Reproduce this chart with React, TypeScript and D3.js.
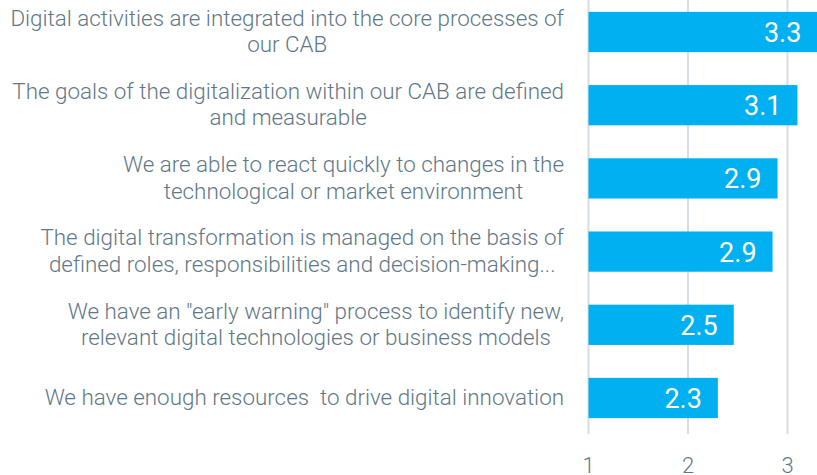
import React from "react";
import * as d3 from "d3";

const categories: string[] = [
  "Digital activities are integrated into the core processes of\nour CAB",
  "The goals of the digitalization within our CAB are defined\nand measurable",
  "We are able to react quickly to changes in the\ntechnological or market environment",
  "The digital transformation is managed on the basis of\ndefined roles, responsibilities and decision-making...",
  "We have an \"early warning\" process to identify new,\nrelevant digital technologies or business models",
  "We have enough resources  to drive digital innovation",
];
const values: number[] = [3.3, 3.1, 2.9, 2.85, 2.46, 2.3];
const valueLabels: string[] = ["3.3", "3.1", "2.9", "2.9", "2.5", "2.3"];
const ticks: number[] = [1, 2, 3];

const W = 817;
const H = 475;
const FONT = "Roboto, 'Open Sans', sans-serif";
const TEXT = "#5f7888";
const LABEL_SIZE = 22.4;
const LABEL_WEIGHT = 300;

let ctx: CanvasRenderingContext2D | null = null;
function measure(s: string): number {
  if (!ctx) ctx = document.createElement("canvas").getContext("2d");
  if (!ctx) return s.length * LABEL_SIZE * 0.45;
  ctx.font = `${LABEL_WEIGHT} ${LABEL_SIZE}px Roboto`;
  return ctx.measureText(s).width;
}

export default function App() {
  const [, setReady] = React.useState(0);
  React.useEffect(() => {
    const f: any = (document as any).fonts;
    if (f && f.ready) f.ready.then(() => setReady(1));
  }, []);
  const x = d3.scaleLinear().domain([1, 3]).range([588.5, 787.5]);
  const y = d3
    .scaleBand<number>()
    .domain(categories.map((_, i) => i))
    .range([-4.6, 434.6])
    .paddingInner(0.45)
    .paddingOuter(0.225);
  const bw = y.bandwidth();
  const labelRight = 564;
  return (
    <svg
      width={W}
      height={H}
      style={{ position: "absolute", left: 0, top: 0, background: "#fff" }}
    >
      {ticks.map((t) => (
        <line
          key={"g" + t}
          x1={x(t)}
          x2={x(t)}
          y1={0}
          y2={434}
          stroke="#d6dee4"
          strokeWidth={2}
        />
      ))}
      {values.map((v, i) => {
        const y0 = y(i)!;
        const cy = y0 + bw / 2;
        const end = x(v);
        const lines = categories[i].split("\n");
        const maxW = Math.max(...lines.map(measure));
        const cx = labelRight - maxW / 2;
        return (
          <g key={i}>
            <rect x={x(1)} y={y0} width={end - x(1)} height={bw} fill="#00b0f0" />
            <text
              x={Math.min(end, W + 3) - 16}
              y={cy + 10}
              textAnchor="end"
              fill="#fff"
              fontFamily={FONT}
              fontSize={27}
            >
              {valueLabels[i]}
            </text>
            {lines.map((ln, j) => (
              <text
                key={j}
                x={cx}
                y={cy + 7 + (j - (lines.length - 1) / 2) * 26.5}
                textAnchor="middle"
                fill={TEXT}
                fontFamily={FONT}
                fontWeight={LABEL_WEIGHT}
                fontSize={LABEL_SIZE}
                style={{ whiteSpace: "pre" }}
              >
                {ln}
              </text>
            ))}
          </g>
        );
      })}
      {ticks.map((t) => (
        <text
          key={"t" + t}
          x={x(t)}
          y={473}
          textAnchor="middle"
          fill={TEXT}
          fontFamily={FONT}
          fontWeight={LABEL_WEIGHT}
          fontSize={22}
        >
          {t}
        </text>
      ))}
    </svg>
  );
}
